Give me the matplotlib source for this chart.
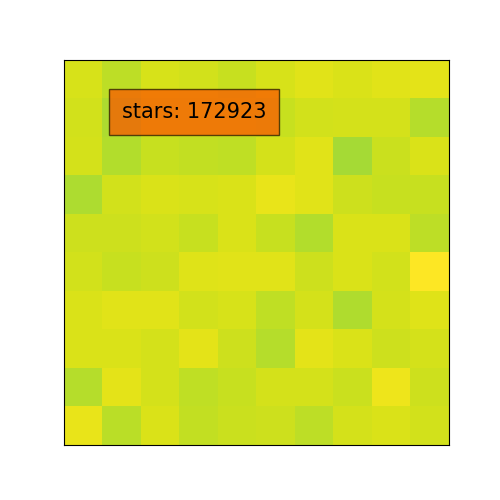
import numpy as np
import matplotlib
matplotlib.use("Agg")
import matplotlib.pyplot as plt

# cell values (viridis scale, 0..1), row 0 at top
row0 = [0.940, 0.900, 0.940, 0.930, 0.915, 0.940, 0.955, 0.945, 0.955, 0.960]
row1 = [0.930, 0.875, 0.925, 0.925, 0.925, 0.915, 0.930, 0.935, 0.935, 0.890]
row2 = [0.935, 0.885, 0.915, 0.910, 0.905, 0.935, 0.955, 0.865, 0.920, 0.945]
row3 = [0.875, 0.930, 0.945, 0.940, 0.945, 0.965, 0.955, 0.925, 0.915, 0.915]
row4 = [0.925, 0.925, 0.930, 0.915, 0.945, 0.915, 0.885, 0.945, 0.945, 0.900]
row5 = [0.930, 0.915, 0.925, 0.950, 0.955, 0.955, 0.925, 0.945, 0.930, 1.000]
row6 = [0.945, 0.955, 0.955, 0.930, 0.940, 0.905, 0.935, 0.880, 0.935, 0.950]
row7 = [0.945, 0.945, 0.935, 0.960, 0.925, 0.890, 0.960, 0.945, 0.925, 0.935]
row8 = [0.890, 0.960, 0.935, 0.905, 0.915, 0.935, 0.935, 0.920, 0.975, 0.925]
row9 = [0.965, 0.895, 0.945, 0.910, 0.920, 0.925, 0.900, 0.935, 0.945, 0.930]
grid = np.array([row0, row1, row2, row3, row4, row5, row6, row7, row8, row9])

stars = 172923

fig, ax = plt.subplots(figsize=(5, 5), dpi=100)
ax.imshow(grid, cmap="viridis", vmin=0, vmax=1)
ax.set_xticks([])
ax.set_yticks([])

ax.text(0.338, 0.866, f"stars: {stars}", transform=ax.transAxes,
        ha="center", va="center", fontsize=15,
        bbox=dict(boxstyle="square,pad=0.62", facecolor=(0.98, 0.34, 0.0),
                  edgecolor=(0.15, 0.1, 0.0), alpha=0.74))

plt.savefig("out.png")
